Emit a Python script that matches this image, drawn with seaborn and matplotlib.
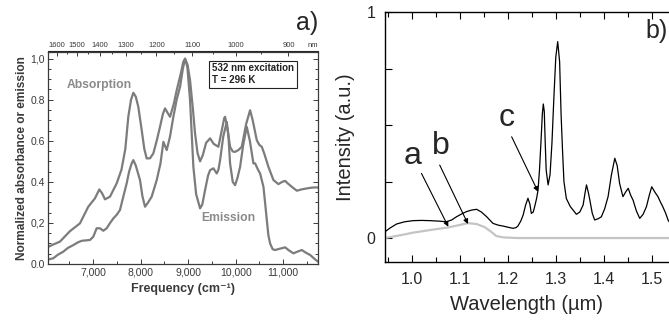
import numpy as np
import matplotlib
matplotlib.use("Agg")
import matplotlib.pyplot as plt
from matplotlib.ticker import MultipleLocator, FixedLocator
import seaborn as sns

# ---- panel a: normalized absorption / emission vs frequency ----
abs_freq = [6060, 6165, 6305, 6516, 6726, 6901, 7042, 7133, 7190, 7253, 7358, 7499,
            7600, 7680, 7743, 7800, 7849, 7900, 7954, 8025, 8080, 8130, 8200, 8270,
            8340, 8410, 8470, 8516, 8560, 8621, 8700, 8762, 8850, 8900, 8937, 8990,
            9042, 9100, 9147, 9200, 9253, 9310, 9380, 9463, 9540, 9638, 9700, 9760,
            9779, 9830, 9884, 9940, 9989, 10060, 10130, 10220, 10305, 10360, 10446,
            10500, 10551, 10600, 10691, 10796, 10901, 10980, 11042, 11110, 11183,
            11288, 11400, 11498, 11600, 11709, 11740]
abs_val = [0.084, 0.095, 0.109, 0.160, 0.198, 0.279, 0.320, 0.363, 0.345, 0.315, 0.328, 0.393,
           0.460, 0.560, 0.717, 0.800, 0.834, 0.815, 0.765, 0.652, 0.560, 0.514, 0.515, 0.539,
           0.600, 0.668, 0.730, 0.758, 0.740, 0.717, 0.780, 0.847, 0.930, 0.985, 1.000, 0.970,
           0.895, 0.760, 0.636, 0.540, 0.500, 0.530, 0.590, 0.612, 0.585, 0.571, 0.640, 0.710,
           0.717, 0.660, 0.571, 0.548, 0.546, 0.555, 0.571, 0.680, 0.749, 0.700, 0.603,
           0.580, 0.571, 0.540, 0.473, 0.409, 0.389, 0.400, 0.405, 0.390, 0.376,
           0.357, 0.364, 0.368, 0.372, 0.373, 0.372]

em_freq = [6060, 6165, 6260, 6375, 6470, 6585, 6680, 6762, 6850, 6937, 7007, 7077, 7147,
           7217, 7288, 7360, 7428, 7500, 7568, 7640, 7709, 7760, 7814, 7849, 7900, 7950,
           7989, 8040, 8095, 8160, 8235, 8341, 8420, 8481, 8551, 8620, 8691, 8760, 8832,
           8890, 8937, 8985, 9042, 9080, 9112, 9170, 9253, 9300, 9358, 9420, 9463, 9533,
           9604, 9640, 9674, 9740, 9814, 9850, 9884, 9940, 9989, 10040, 10095, 10160,
           10235, 10300, 10375, 10411, 10470, 10516, 10586, 10620, 10657, 10690, 10726,
           10780, 10831, 10940, 11042, 11130, 11217, 11300, 11393, 11480, 11568, 11660, 11740]
em_val = [0.022, 0.028, 0.045, 0.060, 0.078, 0.092, 0.105, 0.113, 0.115, 0.117, 0.133, 0.174, 0.174,
          0.162, 0.174, 0.200, 0.222, 0.240, 0.263, 0.330, 0.393, 0.450, 0.490, 0.506, 0.480, 0.440,
          0.409, 0.330, 0.279, 0.300, 0.328, 0.409, 0.490, 0.595, 0.555, 0.620, 0.717, 0.800, 0.863,
          0.950, 1.000, 0.960, 0.798, 0.620, 0.473, 0.340, 0.271, 0.290, 0.360, 0.430, 0.457, 0.466,
          0.441, 0.460, 0.506, 0.620, 0.692, 0.620, 0.490, 0.400, 0.384, 0.420, 0.473, 0.580,
          0.668, 0.600, 0.490, 0.490, 0.460, 0.441, 0.376, 0.300, 0.214, 0.140, 0.100,
          0.072, 0.068, 0.075, 0.081, 0.065, 0.052, 0.060, 0.068, 0.055, 0.044, 0.025, 0.010]

freq_ticks = [7000, 8000, 9000, 10000, 11000]
freq_labels = ["7,000", "8,000", "9,000", "10,000", "11,000"]
norm_ticks = [0.0, 0.2, 0.4, 0.6, 0.8, 1.0]
norm_labels = ["0.0", "0,2", "0.4", "0.6", "0.8", "1,0"]
nm_ticks = [1600, 1500, 1400, 1300, 1200, 1100, 1000, 900]
nm_labels = ["1600", "1500", "1400", "1300", "1200", "1100", "1000", "900"]
nm_minor = [1550, 1450, 1350, 1250, 1150, 1050, 950]

# ---- panel b: intensity vs wavelength ----
wl_black = [0.944, 0.955, 0.968, 0.985, 1.003, 1.020, 1.037, 1.055, 1.072, 1.083, 1.093, 1.104,
            1.114, 1.125, 1.135, 1.145, 1.156, 1.169, 1.180, 1.190, 1.200, 1.211, 1.217, 1.221,
            1.227, 1.232, 1.237, 1.242, 1.246, 1.249, 1.253, 1.256, 1.260, 1.263, 1.266, 1.269,
            1.272, 1.274, 1.276, 1.278, 1.280, 1.284, 1.288, 1.292, 1.296, 1.300, 1.304, 1.308,
            1.311, 1.314, 1.317, 1.322, 1.330, 1.343, 1.350, 1.357, 1.361, 1.364, 1.368, 1.371,
            1.376, 1.381, 1.388, 1.395, 1.402, 1.409, 1.416, 1.423, 1.428, 1.433, 1.440, 1.446,
            1.451, 1.456, 1.461, 1.468, 1.475, 1.482, 1.489, 1.495, 1.500, 1.506, 1.513, 1.518,
            1.523, 1.529, 1.534, 1.540]
int_black = [0.028, 0.045, 0.062, 0.072, 0.077, 0.078, 0.077, 0.075, 0.072, 0.080, 0.094, 0.107,
             0.117, 0.124, 0.127, 0.115, 0.094, 0.065, 0.057, 0.053, 0.048, 0.043, 0.046, 0.053,
             0.075, 0.102, 0.145, 0.176, 0.150, 0.109, 0.115, 0.139, 0.175, 0.212, 0.300, 0.420,
             0.550, 0.593, 0.560, 0.420, 0.300, 0.235, 0.280, 0.420, 0.620, 0.800, 0.869, 0.780,
             0.550, 0.390, 0.250, 0.175, 0.140, 0.105, 0.115, 0.146, 0.200, 0.235, 0.200, 0.168,
             0.110, 0.080, 0.085, 0.094, 0.130, 0.183, 0.280, 0.353, 0.320, 0.242, 0.183, 0.205,
             0.220, 0.190, 0.168, 0.120, 0.087, 0.105, 0.139, 0.190, 0.227, 0.205, 0.183, 0.160,
             0.139, 0.110, 0.080, 0.060]

wl_gray = [0.944, 0.975, 1.003, 1.040, 1.076, 1.100, 1.117, 1.135, 1.152, 1.165, 1.176,
           1.190, 1.220, 1.300, 1.400, 1.540]
int_gray = [0.000, 0.012, 0.024, 0.036, 0.047, 0.058, 0.066, 0.062, 0.048, 0.028, 0.009,
            0.003, 0.000, 0.000, 0.000, 0.000]

wl_ticks = [1.0, 1.1, 1.2, 1.3, 1.4, 1.5]
wl_labels = ["1.0", "1.1", "1.2", "1.3", "1.4", "1.5"]
int_ticks = [0.0, 0.25, 0.5, 0.75, 1.0]
int_labels = ["0", "", "", "", "1"]

sns.set_style("ticks")
plt.rcParams["font.family"] = ["Liberation Sans", "DejaVu Sans"]

W, H = 669, 322
fig = plt.figure(figsize=(W / 100, H / 100), dpi=100)


def frame(left, top, right, bottom):
    return [left / W, 1 - bottom / H, (right - left) / W, (bottom - top) / H]


CURVE = "#7c7c7c"
DARK = "#3a3a3a"

# ---------------- panel a ----------------
ax1 = fig.add_axes(frame(48.3, 51.5, 318.3, 264))
sns.lineplot(x=abs_freq, y=abs_val, ax=ax1, color=CURVE, linewidth=1.6,
             estimator=None, sort=False)
sns.lineplot(x=em_freq, y=em_val, ax=ax1, color=CURVE, linewidth=1.6,
             estimator=None, sort=False)
ax1.set_xlim(6060, 11740)
ax1.set_ylim(0, 1.035)
ax1.set_xticks(freq_ticks, labels=freq_labels)
ax1.xaxis.set_minor_locator(MultipleLocator(500))
ax1.set_yticks(norm_ticks, labels=norm_labels)
ax1.yaxis.set_minor_locator(MultipleLocator(0.05))
ax1.tick_params(which="both", direction="in", right=True, top=False,
                labelsize=7.5, labelcolor=DARK, color=DARK, width=0.7, pad=2.5)
ax1.tick_params(which="major", length=3.5)
ax1.tick_params(which="minor", length=2)
for sp in ax1.spines.values():
    sp.set_color(DARK)
    sp.set_linewidth(0.9)
ax1.set_xlabel("Frequency (cm\u207b\u00b9)", fontsize=9, fontweight="bold",
               color=DARK, labelpad=4)
ax1.set_ylabel("Normalized absorbance or emission", fontsize=8.6,
               fontweight="bold", color=DARK, labelpad=1.5)

sec = ax1.secondary_xaxis("top", functions=(lambda f: 1e7 / np.clip(f, 1, None),
                                            lambda w: 1e7 / np.clip(w, 1, None)))
sec.set_xticks(nm_ticks, labels=nm_labels)
sec.xaxis.set_minor_locator(FixedLocator(nm_minor))
sec.tick_params(which="both", direction="in", labelsize=5.5, labelcolor=DARK,
                color=DARK, width=0.7, pad=1.5)
sec.tick_params(which="major", length=3.5)
sec.tick_params(which="minor", length=2)
ax1.text(1.0, 1.012, "nm", transform=ax1.transAxes, ha="right", va="bottom",
         fontsize=5.5, color=DARK)

ax1.text(7126, 0.871, "Absorption", fontsize=8.7, fontweight="bold",
         color="#8a8a8a", ha="center", va="center")
ax1.text(9842, 0.224, "Emission", fontsize=8.7, fontweight="bold",
         color="#8a8a8a", ha="center", va="center")
ax1.text(9500, 0.925, "532 nm excitation\nT = 296 K", fontsize=7,
         fontweight="bold", color="#222222", ha="left", va="center",
         linespacing=1.15,
         bbox=dict(boxstyle="square,pad=0.3", fc="white", ec="#222222", lw=0.8))

fig.text(307 / W, 1 - 23 / H, "a)", fontsize=18, ha="center", va="center")

# ---------------- panel b ----------------
ax2 = fig.add_axes(frame(385, 12, 669, 262))
sns.lineplot(x=wl_gray, y=int_gray, ax=ax2, color="#c4c4c4", linewidth=1.6,
             estimator=None, sort=False)
sns.lineplot(x=wl_black, y=int_black, ax=ax2, color="black", linewidth=0.9,
             estimator=None, sort=False)
ax2.set_xlim(0.944, 1.536)
ax2.set_ylim(-0.106, 1.0)
ax2.spines["right"].set_visible(False)
for sp in ("left", "top", "bottom"):
    ax2.spines[sp].set_linewidth(1.0)
    ax2.spines[sp].set_color("black")
ax2.set_xticks(wl_ticks, labels=wl_labels)
ax2.xaxis.set_minor_locator(MultipleLocator(0.05))
ax2.set_yticks(int_ticks, labels=int_labels)
ax2.tick_params(which="both", direction="in", top=True, right=False,
                labelsize=11.5, width=0.8, pad=7, color="black")
ax2.tick_params(which="major", length=5)
ax2.tick_params(which="minor", length=3.5)
ax2.set_xlabel("Wavelength (\u00b5m)", fontsize=14.5, labelpad=6)
ax2.set_ylabel("Intensity (a.u.)", fontsize=14.5, labelpad=8)

arrow = dict(arrowstyle="-|>", color="black", lw=0.8, mutation_scale=7,
             shrinkA=0, shrinkB=0)
ax2.annotate("", xy=(1.076, 0.050), xytext=(1.020, 0.286), arrowprops=arrow)
ax2.annotate("", xy=(1.117, 0.062), xytext=(1.058, 0.323), arrowprops=arrow)
ax2.annotate("", xy=(1.263, 0.205), xytext=(1.208, 0.448), arrowprops=arrow)
ax2.text(1.001, 0.365, "a", fontsize=23, ha="center", va="center")
ax2.text(1.060, 0.407, "b", fontsize=23, ha="center", va="center")
ax2.text(1.198, 0.531, "c", fontsize=23, ha="center", va="center")

fig.text(668 / W, 1 - 31 / H, "b)", fontsize=18, ha="right", va="center")

fig.savefig("out.png", dpi=100)
